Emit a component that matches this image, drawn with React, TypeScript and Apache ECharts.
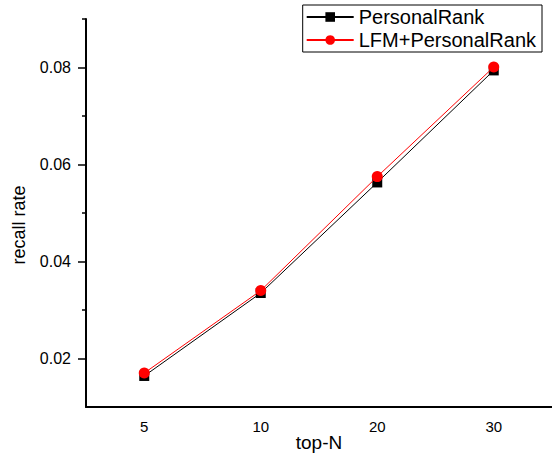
import React, { useEffect, useRef } from "react";
import * as echarts from "echarts";

const categories = ["5", "10", "20", "30"];
const personalRank = [0.0164, 0.0335, 0.0563, 0.0794];
const lfmPersonalRank = [0.017, 0.034, 0.0575, 0.0801];
const majorTicks = [0.02, 0.04, 0.06, 0.08];
const minorTicks = [0.03, 0.05, 0.07, 0.09];
const seriesNames = ["PersonalRank", "LFM+PersonalRank"];

const FONT = "Liberation Sans, Arial, sans-serif";

export default function App() {
  const ref = useRef<HTMLDivElement>(null);
  useEffect(() => {
    if (!ref.current) return;
    const chart = echarts.init(ref.current, undefined, { renderer: "svg" });
    chart.setOption({
      animation: false,
      backgroundColor: "#fff",
      textStyle: { fontFamily: FONT, color: "#000" },
      grid: { left: 86, right: 0, top: 19, bottom: 50, containLabel: false, outerBoundsMode: "none" },
      legend: {
        orient: "vertical",
        right: 10,
        top: 5,
        padding: [2, 6, 2, 3],
        itemGap: 3,
        itemWidth: 47,
        itemHeight: 12,
        borderColor: "#000",
        borderWidth: 1,
        backgroundColor: "#fff",
        textStyle: { fontSize: 20, fontFamily: FONT, color: "#000", lineHeight: 20 },
        data: seriesNames,
      },
      xAxis: {
        type: "category",
        data: categories,
        boundaryGap: true,
        name: "top-N",
        nameLocation: "middle",
        nameGap: 26,
        nameMoveOverlap: false,
        nameTextStyle: { fontSize: 19, fontFamily: FONT, color: "#000" },
        axisLine: { lineStyle: { color: "#000", width: 2 } },
        axisTick: { alignWithLabel: true, length: 8, lineStyle: { color: "#000", width: 1.5 } },
        axisLabel: { fontSize: 15, color: "#000", margin: 12, fontFamily: FONT },
        splitLine: { show: false },
      },
      yAxis: [
        {
          type: "value",
          min: 0.01,
          max: 0.09,
          name: "recall rate",
          nameLocation: "middle",
          nameRotate: 90,
          nameGap: 58,
          nameMoveOverlap: false,
          nameTextStyle: { fontSize: 18, fontFamily: FONT, color: "#000", padding: [0, 24, 0, 0] },
          axisLine: { show: true, lineStyle: { color: "#000", width: 2 } },
          axisTick: { show: true, length: 8, customValues: majorTicks, lineStyle: { color: "#000", width: 1.5 } },
          axisLabel: {
            show: true,
            customValues: majorTicks,
            fontSize: 16,
            color: "#000",
            margin: 15,
            fontFamily: FONT,
            formatter: (v: number) => v.toFixed(2),
          },
          splitLine: { show: false },
        },
        {
          type: "value",
          min: 0.01,
          max: 0.09,
          position: "left",
          offset: 0,
          axisLine: { show: false },
          axisTick: { show: true, length: 4, customValues: minorTicks, lineStyle: { color: "#000", width: 1.5 } },
          axisLabel: { show: false },
          splitLine: { show: false },
        },
      ],
      series: [
        {
          name: seriesNames[0],
          type: "line",
          data: personalRank,
          yAxisIndex: 0,
          symbol: "rect",
          symbolSize: 10,
          itemStyle: { color: "#000" },
          lineStyle: { color: "#000", width: 1 },
          z: 2,
        },
        {
          name: seriesNames[1],
          type: "line",
          data: lfmPersonalRank,
          yAxisIndex: 0,
          symbol: "circle",
          symbolSize: 11,
          itemStyle: { color: "#ff0000" },
          lineStyle: { color: "#ff0000", width: 1 },
          z: 3,
        },
      ],
    });
    return () => chart.dispose();
  }, []);
  return <div ref={ref} style={{ width: 552, height: 457, position: "absolute", left: 0, top: 0 }} />;
}
